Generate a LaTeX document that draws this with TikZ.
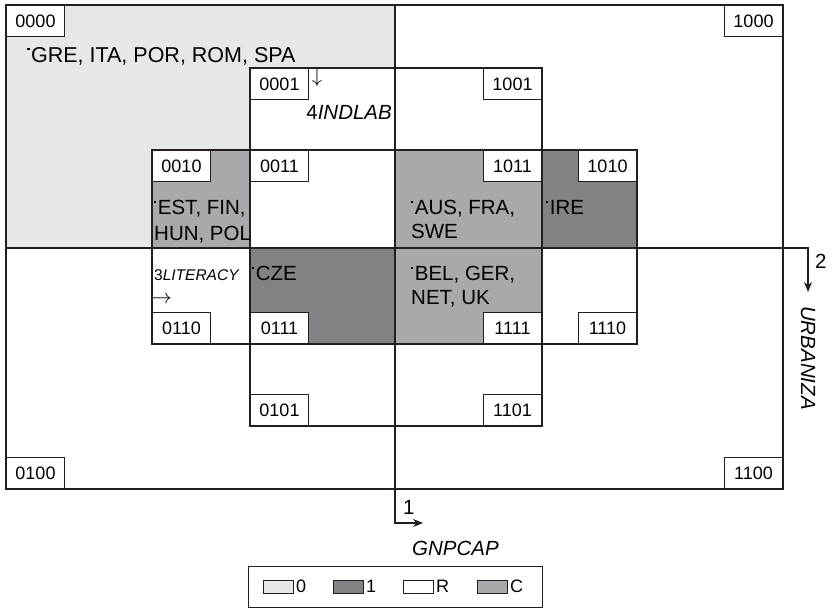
\documentclass[tikz,border=0pt]{standalone}
\usepackage{fontspec}
\setmainfont{Liberation Sans}
\usetikzlibrary{arrows.meta}

\definecolor{ink}{HTML}{231F20}
\definecolor{zero}{HTML}{E6E7E8}
\definecolor{one}{HTML}{808285}
\definecolor{contr}{HTML}{A7A9AC}
\newcommand{\mk}{\raisebox{0.6em}{\rule{0.11em}{0.1em}}\hspace{0.07em}}

\begin{document}
\begin{tikzpicture}[x=1pt, y=-1pt,
  code/.style={draw=ink, fill=white, line width=1pt, minimum width=58pt, minimum height=31pt, inner sep=0pt, font=\fontsize{18}{18}\selectfont},
  names/.style={anchor=base west, inner sep=0pt, font=\fontsize{20.5}{25}\selectfont},
  axis/.style={inner sep=0pt, font=\fontsize{20.5}{25}\selectfont\itshape},
  arrow/.style={-{Stealth[length=10pt, width=8pt]}, line width=1.2pt, draw=ink},
  swatch/.style={draw=ink, line width=0.8pt, minimum width=30pt, minimum height=13pt, inner sep=0pt, anchor=west},
  key/.style={anchor=west, inner sep=0pt, font=\fontsize{18}{18}\selectfont},
]
  \useasboundingbox (0,0) rectangle (832,609);

  % shaded regions
  \fill[zero] (6,5) rectangle (395,248);
  \fill[white] (250,68) rectangle (542,150);
  \fill[contr] (152,150) rectangle (250,248);
  \fill[white] (250,150) rectangle (395,248);
  \fill[contr] (395,150) rectangle (542,248);
  \fill[one] (542,150) rectangle (637,248);
  \fill[white] (152,248) rectangle (250,344);
  \fill[one] (250,248) rectangle (395,344);
  \fill[contr] (395,248) rectangle (542,344);
  \fill[white] (542,248) rectangle (637,344);
  \fill[white] (250,344) rectangle (542,426);

  % outlines
  \draw[ink, line width=1.2pt] (6,5) rectangle (783,489);
  \draw[ink, line width=1.2pt] (395,5) -- (395,489);
  \draw[ink, line width=1.2pt] (6,248) -- (783,248);
  \draw[ink, line width=1.2pt] (250,68) rectangle (542,426);
  \draw[ink, line width=1.2pt] (152,150) rectangle (637,344);

  % configuration labels
  \node[code, anchor=north west] (c0000) at (6,5) {0000};
  \node[code, anchor=north east] (c1000) at (783,5) {1000};
  \node[code, anchor=south west] (c0100) at (6,489) {0100};
  \node[code, anchor=south east] (c1100) at (783,489) {1100};
  \node[code, anchor=north west] (c0001) at (250,68) {0001};
  \node[code, anchor=north east] (c1001) at (542,68) {1001};
  \node[code, anchor=north west] (c0010) at (152,150) {0010};
  \node[code, anchor=north west] (c0011) at (250,150) {0011};
  \node[code, anchor=north east] (c1011) at (542,150) {1011};
  \node[code, anchor=north east] (c1010) at (637,150) {1010};
  \node[code, anchor=south west] (c0110) at (152,344) {0110};
  \node[code, anchor=south west] (c0111) at (250,344) {0111};
  \node[code, anchor=south east] (c1111) at (542,344) {1111};
  \node[code, anchor=south east] (c1110) at (637,344) {1110};
  \node[code, anchor=south west] (c0101) at (250,426) {0101};
  \node[code, anchor=south east] (c1101) at (542,426) {1101};

  % cases
  \node[names, font=\fontsize{21.5}{25}\selectfont] (gre) at (27,63) {\mk GRE, ITA, POR, ROM, SPA};
  \node[names] (est) at (154,215) {\mk EST, FIN,};
  \node[names] (hun) at (154,241) {HUN, POL};
  \node[names] (aus) at (411,215) {\mk AUS, FRA,};
  \node[names] (swe) at (411,239) {SWE};
  \node[names] (ire) at (546,215) {\mk IRE};
  \node[names] (cze) at (252,281) {\mk CZE};
  \node[names] (bel) at (411,281) {\mk BEL, GER,};
  \node[names] (net) at (411,305) {NET, UK};

  % conditions
  \node[names, anchor=base east] (indlab) at (392,120) {4\textit{INDLAB}};
  \node[inner sep=0pt, font=\fontsize{22}{22}\selectfont] (indarr) at (317,77) {$\downarrow$};
  \node[names, font=\fontsize{15.5}{18}\selectfont] (literacy) at (154,281) {3\textit{LITERACY}};
  \node[inner sep=0pt, anchor=west, font=\fontsize{21}{21}\selectfont] (litarr) at (151,300) {$\rightarrow$};

  \coordinate (hend) at (783,248);
  \coordinate (htip) at (808,292);
  \draw[ink, line width=1.2pt] (hend) -- (808,248);
  \draw[arrow] (hend) -| (htip);
  \node[names] (two) at (815,269) {2};
  \node[axis, rotate=-90] (urban) at (808,358) {URBANIZA};

  \coordinate (vend) at (395,489);
  \coordinate (vtip) at (423,523);
  \draw[arrow] (vend) |- (vtip);
  \node[names] (one) at (403,514) {1};
  \node[axis, anchor=base west] (gnp) at (412,555) {GNPCAP};

  % legend
  \node[draw=ink, line width=1pt, minimum width=294pt, minimum height=41pt, inner sep=0pt] (legend) at (395,586.5) {};
  \node[swatch, fill=zero] (s0) at (263,586.5) {};
  \node[key] (k0) at ([xshift=2pt]s0.east) {0};
  \node[swatch, fill=one] (s1) at (333,586.5) {};
  \node[key] (k1) at ([xshift=2pt]s1.east) {1};
  \node[swatch, fill=white] (sr) at (403,586.5) {};
  \node[key] (kr) at ([xshift=2pt]sr.east) {R};
  \node[swatch, fill=contr] (sc) at (477,586.5) {};
  \node[key] (kc) at ([xshift=2pt]sc.east) {C};
\end{tikzpicture}
\end{document}
